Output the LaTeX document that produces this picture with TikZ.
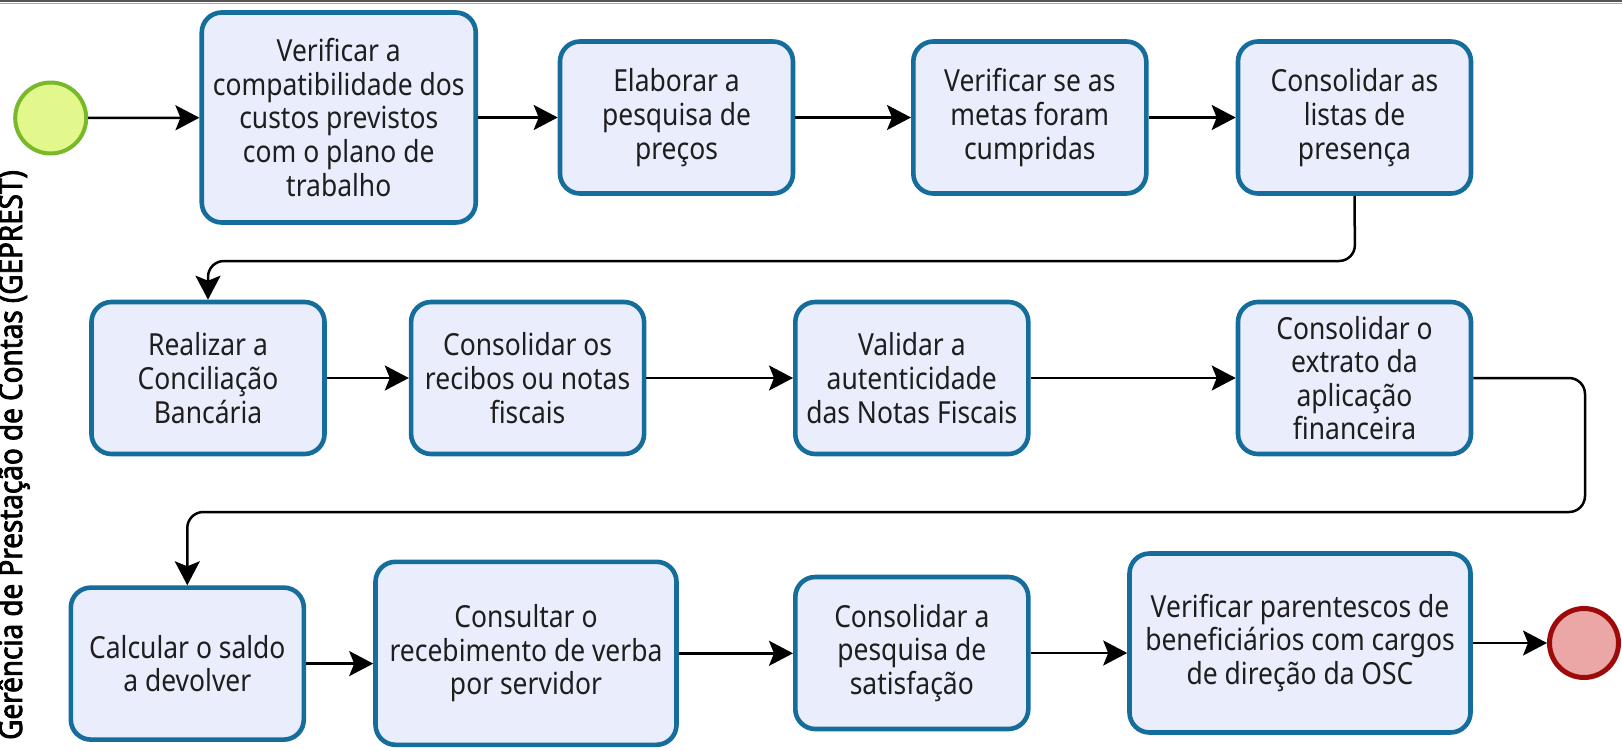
\documentclass[tikz,border=0pt]{standalone}
\usepackage{fontspec}
\setmainfont{Noto Sans}[FakeStretch=0.87]
\newfontfamily\lanefont{Noto Sans}[FakeStretch=0.87,FakeBold=2.5]
\usetikzlibrary{arrows.meta}
\definecolor{taskfill}{HTML}{E9EDFC}
\definecolor{taskborder}{HTML}{156D9C}
\definecolor{startfill}{HTML}{E2F88D}
\definecolor{startborder}{HTML}{78B82A}
\definecolor{endfill}{HTML}{EBA6A6}
\definecolor{endborder}{HTML}{9E0A0A}
\definecolor{textcol}{HTML}{1E1E1E}
\definecolor{topline}{HTML}{555555}
\definecolor{toplight}{HTML}{AAAAAA}
\begin{document}
\begin{tikzpicture}[x=0.5pt,y=-0.5pt,
  task/.style={draw=taskborder, line width=2.3pt, fill=taskfill, rounded corners=10pt,
    align=center, font=\fontsize{15.2}{16.8}\selectfont, text=textcol, inner sep=0pt},
  stdtask/.style={task, minimum width=116.5pt, minimum height=76pt},
  flow/.style={line width=1.25pt, draw=black, rounded corners=8pt,
    -{Stealth[length=12pt,width=12.5pt,inset=2.5pt]}},
  startev/.style={circle, draw=startborder, fill=startfill, line width=2pt,
    minimum size=35.5pt, inner sep=0pt},
  endev/.style={circle, draw=endborder, fill=endfill, line width=2.5pt,
    minimum size=34.5pt, inner sep=0pt},
  lanelabel/.style={rotate=90, anchor=base, text=black,
    font=\lanefont\fontsize{16}{18}\selectfont}
]
\useasboundingbox (0,0) rectangle (1622,750);
\fill[white] (0,0) rectangle (1622,750);
\draw[line width=1pt, draw=topline] (0,1) -- (1622,1);
\draw[line width=0.5pt, draw=toplight] (0,3.5) -- (1622,3.5);

\node[lanelabel] (lane) at (22,455) {Gerência de Prestação de Contas (GEPREST)};

\node[startev] (start) at (50.7,118) {};
\node[task, minimum width=137pt, minimum height=105pt] (b1) at (338.75,117.5)
  {Verificar a\\compatibilidade dos\\custos previstos\\com o plano de\\trabalho};
\node[stdtask] (b2) at (676.5,117.5) {Elaborar a\\pesquisa de\\preços};
\node[stdtask] (b3) at (1029.8,117.5) {Verificar se as\\metas foram\\cumpridas};
\node[stdtask] (b4) at (1354.5,117.5) {Consolidar as\\listas de\\presença};

\node[stdtask] (b5) at (208,378) {Realizar a\\Conciliação\\Bancária};
\node[stdtask] (b6) at (527.6,378) {Consolidar os\\recibos ou notas\\fiscais};
\node[stdtask] (b7) at (911.8,378) {Validar a\\autenticidade\\das Notas Fiscais};
\node[stdtask] (b8) at (1354.5,378) {Consolidar o\\extrato da\\aplicação\\financeira};

\node[stdtask] (b9) at (187.3,663.6) {Calcular o saldo\\a devolver};
\node[task, minimum width=150.5pt, minimum height=91.5pt] (b10) at (526,653.3)
  {Consultar o\\recebimento de verba\\por servidor};
\node[stdtask] (b11) at (911.8,653) {Consolidar a\\pesquisa de\\satisfação};
\node[task, minimum width=170.5pt, minimum height=89.5pt] (b12) at (1300,643)
  {Verificar parentescos de\\beneficiários com cargos\\de direção da OSC};
\node[endev] (end) at (1584,643) {};

\coordinate (c1a) at (1355,261);
\coordinate (c1b) at (208,261);
\coordinate (c2a) at (1585,378);
\coordinate (c2b) at (1585,512);
\coordinate (c2c) at (187.3,512);

\draw[flow] (start) -- (b1);
\draw[flow] (b1) -- (b2);
\draw[flow] (b2) -- (b3);
\draw[flow] (b3) -- (b4);
\draw[flow] (b4.south) -- (c1a) -- (c1b) -- (b5.north);
\draw[flow] (b5) -- (b6);
\draw[flow] (b6) -- (b7);
\draw[flow] (b7) -- (b8);
\draw[flow] (b8.east) -- (c2a) -- (c2b) -- (c2c) -- (b9.north);
\draw[flow] (b9.east) -- (b9.east -| b10.west);
\draw[flow] (b10.east) -- (b10.east -| b11.west);
\draw[flow] (b11.east) -- (b11.east -| b12.west);
\draw[flow] (b12.east) -- (end.west);
\end{tikzpicture}
\end{document}
